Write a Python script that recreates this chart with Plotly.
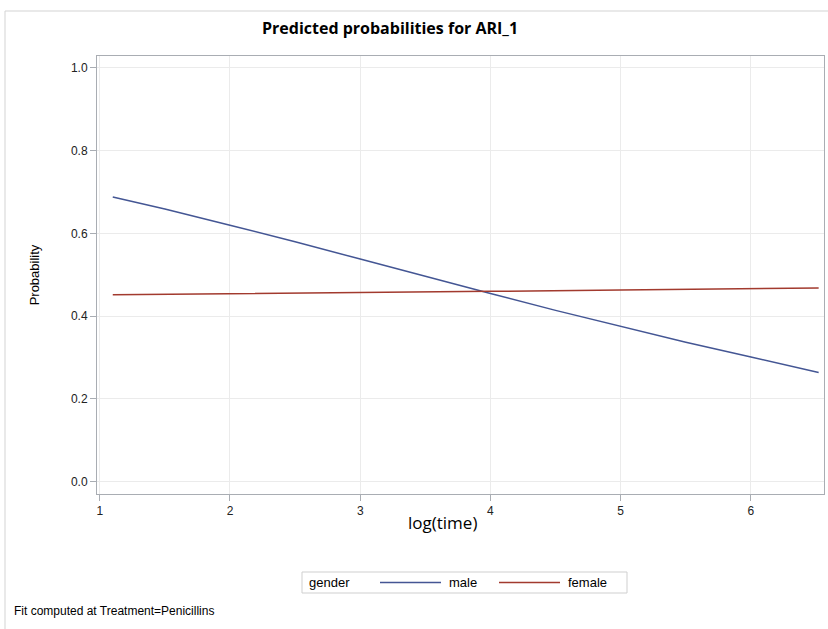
import plotly.graph_objects as go

# Data
male_x = [1.1, 1.5, 2.0, 2.5, 3.0, 3.5, 4.0, 4.5, 5.0, 5.5, 6.0, 6.52]
male_y = [0.688, 0.659, 0.620, 0.580, 0.538, 0.496, 0.455, 0.414, 0.375, 0.337, 0.301, 0.264]
female_x = [1.1, 2.0, 3.0, 4.0, 5.0, 6.0, 6.52]
female_y = [0.452, 0.454, 0.457, 0.460, 0.463, 0.466, 0.468]
x_ticks = [1, 2, 3, 4, 5, 6]
y_ticks = [0.0, 0.2, 0.4, 0.6, 0.8, 1.0]
series_names = ["male", "female"]
series_colors = ["#445694", "#A23A2E"]

W, H = 828, 629
L, R, T, B = 97, 4, 56, 135
PW, PH = W - L - R, H - T - B

def px(p):
    return (p - L) / PW

def py(q):
    return (H - B - q) / PH

SANS = "Liberation Sans, Arial"

fig = go.Figure()
fig.add_trace(go.Scatter(x=male_x, y=male_y, mode="lines", name=series_names[0],
                         line=dict(color=series_colors[0], width=1.5)))
fig.add_trace(go.Scatter(x=female_x, y=female_y, mode="lines", name=series_names[1],
                         line=dict(color=series_colors[1], width=1.5)))

axis_common = dict(showline=True, linecolor="#a9adb3", linewidth=1, mirror=True,
                   showgrid=True, gridcolor="#ebebeb", gridwidth=1,
                   ticks="outside", tickcolor="#a9adb3", ticklen=6,
                   zeroline=False,
                   tickfont=dict(family=SANS, size=12, color="#222222"))

fig.update_layout(
    width=W, height=H,
    margin=dict(l=L, r=R, t=T, b=B),
    paper_bgcolor="white", plot_bgcolor="white",
    font=dict(family=SANS, color="#000000"),
    showlegend=False,
    xaxis=dict(range=[0.979, 6.561], tickvals=x_ticks, ticktext=[str(v) for v in x_ticks],
               **axis_common),
    yaxis=dict(range=[-0.030, 1.029], tickvals=y_ticks, tickformat=".1f",
               title=dict(text="Probability", font=dict(family=SANS, size=13, color="#000000"),
                          standoff=28),
               **axis_common),
)

fig.add_annotation(text="<b>Predicted probabilities for ARI_1</b>", xref="paper", yref="paper",
                   x=px(390), y=py(28), xanchor="center", yanchor="middle", showarrow=False,
                   font=dict(family="Open Sans", size=16, color="#000000"))
fig.add_annotation(text="log(time)", xref="paper", yref="paper",
                   x=px(442), y=py(522), xanchor="center", yanchor="middle", showarrow=False,
                   font=dict(family="Open Sans", size=17, color="#000000"))
fig.add_annotation(text="Fit computed at Treatment=Penicillins", xref="paper", yref="paper",
                   x=px(12), y=py(611), xanchor="left", yanchor="middle", showarrow=False,
                   font=dict(family=SANS, size=12, color="#000000"))

# manual legend
fig.add_shape(type="rect", xref="paper", yref="paper",
              x0=px(302), x1=px(627), y0=py(572), y1=py(593),
              line=dict(color="#cfcfcf", width=1), fillcolor="white")
fig.add_annotation(text="gender", xref="paper", yref="paper", x=px(307), y=py(582.5),
                   xanchor="left", yanchor="middle", showarrow=False,
                   font=dict(family=SANS, size=13, color="#000000"))
leg_lines = [(380, 441, 447), (499, 560, 566)]
for (a, b, t), name, col in zip(leg_lines, series_names, series_colors):
    fig.add_shape(type="line", xref="paper", yref="paper", x0=px(a), x1=px(b),
                  y0=py(582.5), y1=py(582.5), line=dict(color=col, width=1.5))
    fig.add_annotation(text=name, xref="paper", yref="paper", x=px(t), y=py(582.5),
                       xanchor="left", yanchor="middle", showarrow=False,
                       font=dict(family=SANS, size=13, color="#000000"))

# outer frame
fig.add_shape(type="rect", xref="paper", yref="paper",
              x0=px(5), x1=px(840), y0=py(11), y1=py(650),
              line=dict(color="#d3d3d3", width=1), fillcolor="rgba(0,0,0,0)", layer="below")

fig.write_html("out.html", config={"displayModeBar": False},
               post_script="document.body.style.margin='0';document.body.style.overflow='hidden';")
